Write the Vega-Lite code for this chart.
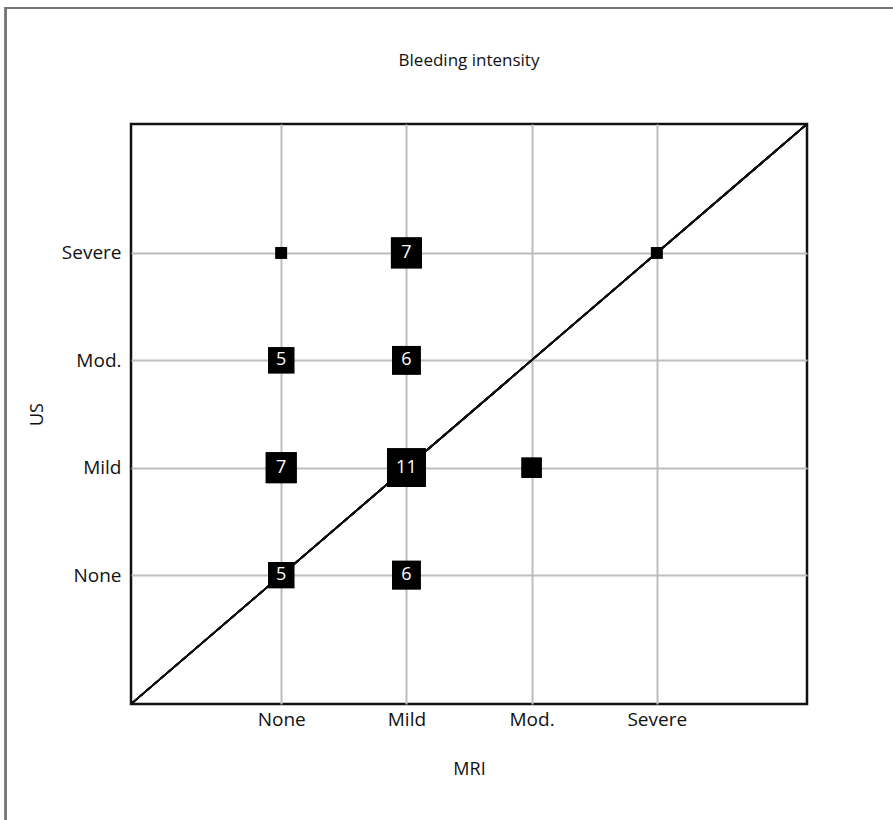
{
  "$schema": "https://vega.github.io/schema/vega-lite/v6.json",
  "width": 676,
  "height": 580,
  "autosize": {"type": "none"},
  "padding": {"left": 131, "top": 124, "right": 86, "bottom": 116},
  "background": "white",
  "title": {"text": "Bleeding intensity", "fontSize": 17, "fontWeight": "normal", "font": "Open Sans", "color": "#111", "offset": -63, "anchor": "middle", "frame": "group"},
  "config": {
    "view": {"stroke": "#111", "strokeWidth": 2.5},
    "axis": {"labelFont": "Open Sans", "titleFont": "Open Sans", "labelFontSize": 19, "titleFontSize": 18, "titleFontWeight": "normal", "labelColor": "#111", "titleColor": "#111", "ticks": false, "domain": false, "grid": true, "gridColor": "#bdbdbd", "gridWidth": 2, "gridOpacity": 1}
  },
  "data": {"values": [
    {"MRI": 1, "US": 4, "n": 1},
    {"MRI": 2, "US": 4, "n": 7},
    {"MRI": 1, "US": 3, "n": 5},
    {"MRI": 2, "US": 3, "n": 6},
    {"MRI": 1, "US": 2, "n": 7},
    {"MRI": 2, "US": 2, "n": 11},
    {"MRI": 3, "US": 2, "n": 3},
    {"MRI": 1, "US": 1, "n": 5},
    {"MRI": 2, "US": 1, "n": 6},
    {"MRI": 4, "US": 4, "n": 1}
  ]},
  "layer": [
    {
      "mark": {"type": "point", "shape": "square", "filled": true, "color": "#000", "opacity": 1},
      "encoding": {
        "x": {"field": "MRI", "type": "quantitative", "scale": {"domain": [-0.2, 5.2], "nice": false, "zero": false},
          "axis": {"values": [1, 2, 3, 4], "grid": true, "labelExpr": "['', 'None', 'Mild', 'Mod.', 'Severe'][datum.value]", "labelPadding": 6, "title": "MRI", "titlePadding": 31}},
        "y": {"field": "US", "type": "quantitative", "scale": {"domain": [-0.2, 5.2], "nice": false, "zero": false},
          "axis": {"values": [1, 2, 3, 4], "grid": true, "labelExpr": "['', 'None', 'Mild', 'Mod.', 'Severe'][datum.value]", "labelPadding": 10, "title": "US", "titlePadding": 15}},
        "size": {"field": "n", "type": "quantitative", "scale": {"domain": [0, 11], "range": [0, 1507], "zero": true}, "legend": null}
      }
    },
    {
      "mark": {"type": "rect", "fill": null, "stroke": "#777", "strokeWidth": 2, "clip": false},
      "encoding": {
        "x": {"datum": -1.2, "type": "quantitative"},
        "x2": {"datum": 6.0},
        "y": {"datum": 6.28, "type": "quantitative"},
        "y2": {"datum": -1.4}
      }
    },
    {
      "mark": {"type": "rule", "color": "#111", "strokeWidth": 1.6},
      "encoding": {
        "x": {"datum": -0.2, "type": "quantitative"},
        "x2": {"datum": 5.2},
        "y": {"datum": -0.2, "type": "quantitative"},
        "y2": {"datum": 5.2}
      }
    },
    {
      "mark": {"type": "point", "shape": "square", "filled": true, "color": "#000", "opacity": 1},
      "encoding": {
        "x": {"field": "MRI", "type": "quantitative"},
        "y": {"field": "US", "type": "quantitative"},
        "size": {"field": "n", "type": "quantitative"}
      }
    },
    {
      "transform": [{"filter": "datum.n >= 5"}],
      "mark": {"type": "text", "color": "white", "font": "Open Sans", "fontSize": 18, "align": "center", "baseline": "middle"},
      "encoding": {
        "x": {"field": "MRI", "type": "quantitative"},
        "y": {"field": "US", "type": "quantitative"},
        "text": {"field": "n", "type": "quantitative"}
      }
    }
  ]
}
